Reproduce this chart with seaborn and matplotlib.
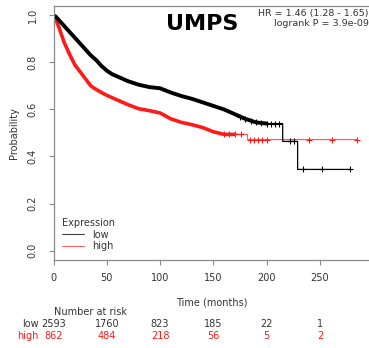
import matplotlib
matplotlib.use("Agg")
import matplotlib.pyplot as plt
from matplotlib.lines import Line2D
import seaborn as sns
import pandas as pd

# Kaplan-Meier estimates (months, survival probability); vertical drops in the
# tail are given as two points at the same time
low_time = [0, 2, 5, 10, 15, 20, 25, 30, 35, 40, 45, 50, 55, 60, 70, 80, 90, 100,
            110, 120, 130, 140, 150, 160, 170, 180, 190, 200, 215, 215, 229, 229, 278]
low_surv = [1.0, 0.995, 0.98, 0.955, 0.93, 0.905, 0.88, 0.855, 0.83, 0.81, 0.785,
            0.765, 0.75, 0.74, 0.72, 0.705, 0.695, 0.69, 0.672, 0.657, 0.645, 0.63,
            0.615, 0.60, 0.58, 0.56, 0.545, 0.54, 0.54, 0.464, 0.464, 0.345, 0.345]
high_time = [0, 2, 5, 10, 15, 20, 25, 30, 35, 40, 45, 50, 55, 60, 70, 80, 90, 100,
             110, 120, 130, 140, 150, 160, 170, 182, 182, 285]
high_surv = [1.0, 0.985, 0.95, 0.885, 0.835, 0.79, 0.76, 0.73, 0.70, 0.685, 0.672,
             0.66, 0.65, 0.64, 0.62, 0.603, 0.595, 0.585, 0.56, 0.545, 0.535, 0.523,
             0.505, 0.494, 0.494, 0.494, 0.472, 0.472]

# Censoring marks in the sparse tail
low_cens_time = [175, 180, 185, 190, 195, 200, 204, 208, 212, 222, 226, 234, 252, 278]
low_cens_surv = [0.57, 0.56, 0.552, 0.545, 0.542, 0.54, 0.54, 0.54, 0.54,
                 0.464, 0.464, 0.345, 0.345, 0.345]
high_cens_time = [160, 165, 170, 176, 184, 188, 192, 196, 200, 240, 261, 285]
high_cens_surv = [0.494, 0.494, 0.494, 0.494, 0.472, 0.472, 0.472, 0.472, 0.472,
                  0.472, 0.472, 0.472]

# Number at risk
risk_times = [0, 50, 100, 150, 200, 250]
risk_low = [2593, 1760, 823, 185, 22, 1]
risk_high = [862, 484, 218, 56, 5, 2]

x_ticks = [0, 50, 100, 150, 200, 250]
y_ticks = [0.0, 0.2, 0.4, 0.6, 0.8, 1.0]

hr_text = "HR = 1.46 (1.28 - 1.65)"
p_text = "logrank P = 3.9e-09"
gene = "UMPS"

sns.set_style("white")
plt.rcParams["font.family"] = ["DejaVu Sans"]

RED = "#ff1a1a"
BLACK = "#000000"
AXIS = "#8a8a8a"
TXT = "#333333"

fig = plt.figure(figsize=(3.69, 3.48), dpi=100)
ax = fig.add_axes([0.145, 0.2529, 0.858, 0.73])

low_df = pd.DataFrame({"t": low_time, "s": low_surv})
high_df = pd.DataFrame({"t": high_time, "s": high_surv})

# thin full curves
sns.lineplot(data=high_df, x="t", y="s", estimator=None, sort=False,
             color=RED, lw=0.9, alpha=0.7, ax=ax)
sns.lineplot(data=low_df, x="t", y="s", estimator=None, sort=False,
             color=BLACK, lw=0.9, ax=ax)
# dense censoring region drawn as a heavy stroke
sns.lineplot(data=high_df[high_df.t <= 180], x="t", y="s", estimator=None,
             sort=False, color=RED, lw=2.6, ax=ax)
sns.lineplot(data=low_df[low_df.t <= 200], x="t", y="s", estimator=None,
             sort=False, color=BLACK, lw=2.8, ax=ax)

sns.scatterplot(x=high_cens_time, y=high_cens_surv, marker="+", s=22, color=RED,
                linewidth=0.8, ax=ax, zorder=4)
sns.scatterplot(x=low_cens_time, y=low_cens_surv, marker="+", s=22, color=BLACK,
                linewidth=0.8, ax=ax, zorder=5)

ax.set_xlim(0, 297)
ax.set_ylim(-0.04, 1.04)
ax.set_xticks(x_ticks)
ax.set_yticks(y_ticks)
ax.set_xticklabels([str(v) for v in x_ticks], fontsize=7, color=TXT)
ax.set_yticklabels([f"{v:.1f}" for v in y_ticks], fontsize=7, color=TXT,
                   rotation=90, va="center")
ax.tick_params(axis="both", direction="out", length=3.5, width=0.8, color=AXIS,
               pad=6, bottom=True, left=True)
ax.tick_params(axis="y", pad=8)
for side in ["left", "top", "bottom"]:
    ax.spines[side].set_color(AXIS)
    ax.spines[side].set_linewidth(0.9)
ax.spines["right"].set_visible(False)

ax.set_xlabel("Time (months)", fontsize=7, color=TXT, labelpad=10)
ax.set_ylabel("Probability", fontsize=7, color=TXT, labelpad=6)

ax.text(0.47, 0.93, gene, transform=ax.transAxes, fontsize=16, fontweight="bold",
        ha="center", va="center", color=BLACK)
ax.text(0.995, 0.95, hr_text + "\n" + p_text, transform=ax.transAxes, fontsize=6.8,
        ha="right", va="center", color=TXT, linespacing=1.2)

handles = [Line2D([], [], color="#444444", lw=0.8),
           Line2D([], [], color="#ff6060", lw=0.8)]
leg = ax.legend(handles, ["low", "high"], title="Expression", loc="lower left",
                bbox_to_anchor=(0.0, 0.0), frameon=False, fontsize=7,
                title_fontsize=7, handlelength=2.2, handletextpad=0.9,
                labelspacing=0.15, alignment="left")
for t in leg.get_texts():
    t.set_color(TXT)
leg.get_title().set_color(TXT)

# number-at-risk table beneath the axis
fig.text(90 / 369, 1 - 312 / 348, "Number at risk", fontsize=7, color=TXT,
         ha="center", va="center")
for rt, lv, hv in zip(risk_times, risk_low, risk_high):
    xf = fig.transFigure.inverted().transform(ax.transData.transform((rt, 0)))[0]
    fig.text(xf, 1 - 324 / 348, str(lv), fontsize=7, color=TXT, ha="center",
             va="center")
    fig.text(xf, 1 - 336 / 348, str(hv), fontsize=7, color=RED, ha="center",
             va="center")
fig.text(39 / 369, 1 - 324 / 348, "low", fontsize=7, color=TXT, ha="right",
         va="center")
fig.text(39 / 369, 1 - 336 / 348, "high", fontsize=7, color=RED, ha="right",
         va="center")

fig.savefig("out.png", dpi=100)
